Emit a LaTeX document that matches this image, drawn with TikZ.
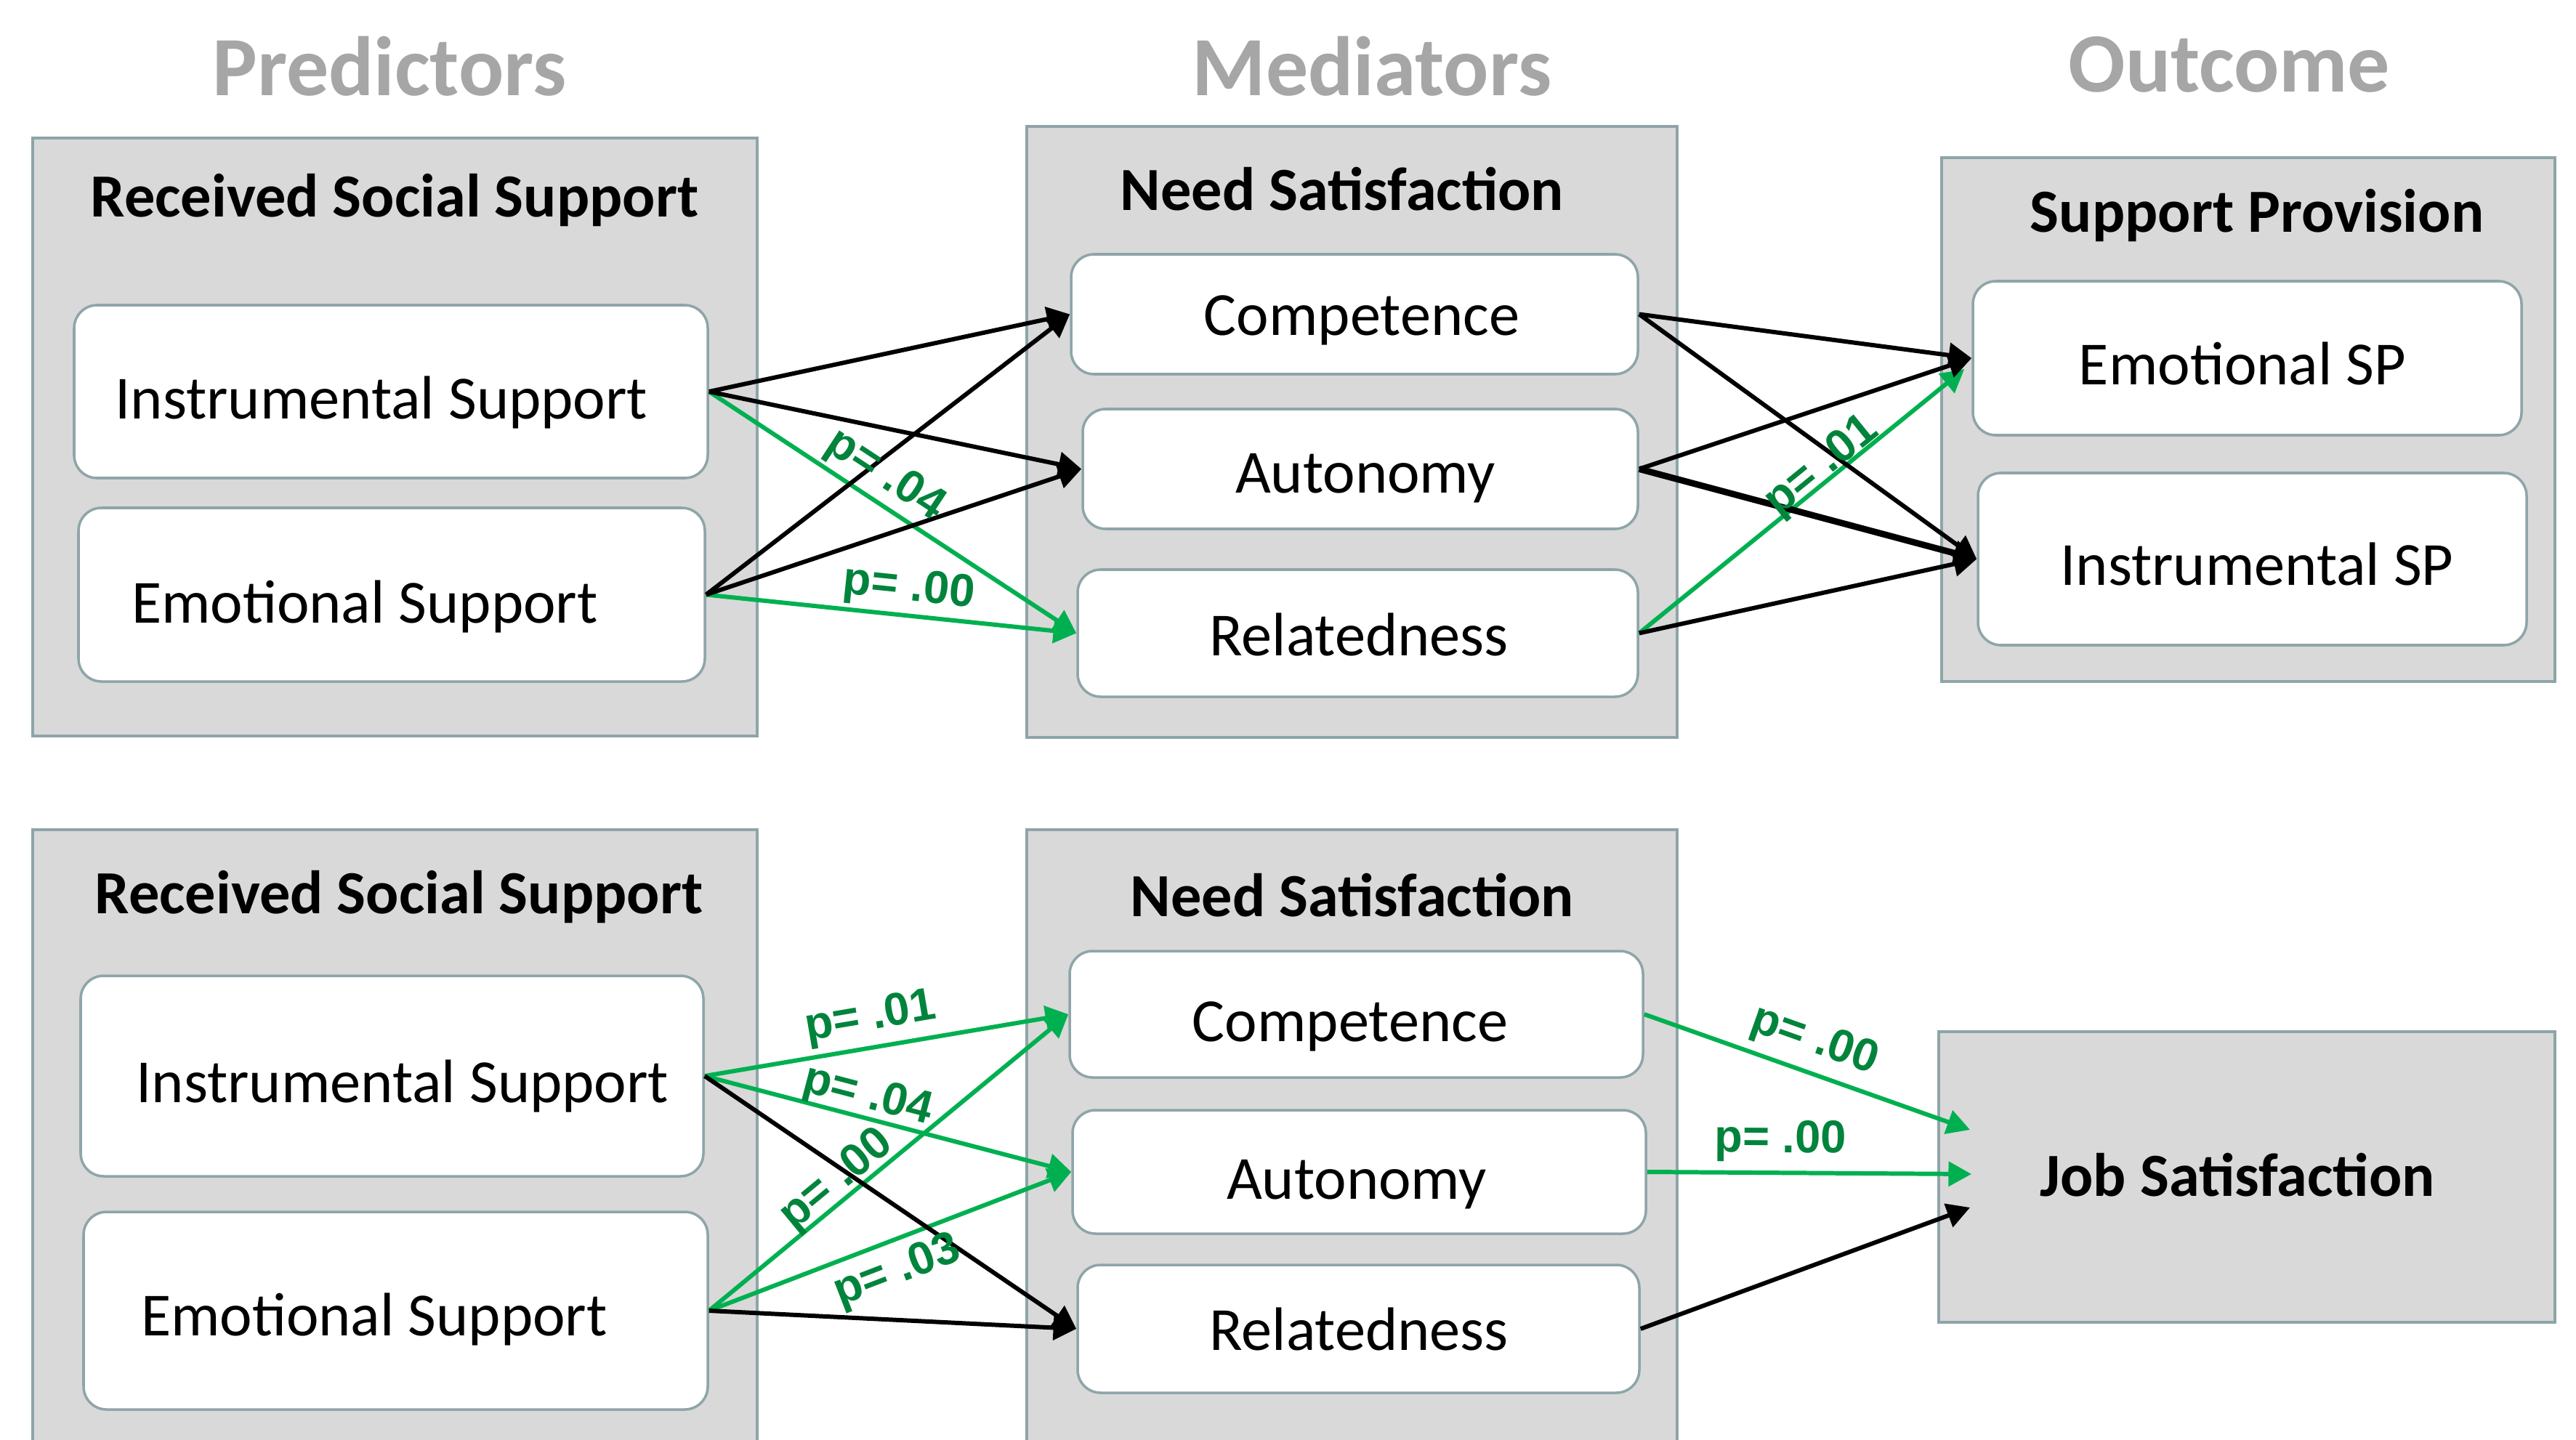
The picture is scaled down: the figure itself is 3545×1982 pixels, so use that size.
\documentclass[tikz,border=0pt]{standalone}
\usepackage{fontspec}
\setmainfont{Carlito}
\newfontfamily\pfont{Liberation Sans}
\usetikzlibrary{arrows.meta,calc,fit}
\definecolor{grpfill}{HTML}{D9D9D9}
\definecolor{edgec}{HTML}{8EA5A8}
\definecolor{headgray}{HTML}{A6A6A6}
\definecolor{sig}{HTML}{00B050}
\definecolor{sigtext}{HTML}{00843C}

\begin{document}
\begin{tikzpicture}[x=0.01cm, y=-0.01cm,
  group/.style={draw=edgec, fill=grpfill, line width=1.1pt, inner sep=0pt},
  item/.style={draw=edgec, fill=white, line width=1pt, rounded corners=9pt, inner sep=0pt},
  coltitle/.style={text=headgray, font=\bfseries\fontsize{33}{40}\selectfont, inner sep=0pt, anchor=base},
  grptitle/.style={font=\bfseries\fontsize{24}{29}\selectfont, inner sep=0pt, anchor=base},
  itemtext/.style={font=\fontsize{24}{29}\selectfont, inner sep=0pt, anchor=base},
  nsp/.style={draw=black, line width=1.7pt, -{Triangle[length=9pt,width=9.5pt]}},
  sp/.style={draw=sig, line width=1.7pt, -{Triangle[length=9pt,width=9.5pt]}},
  pval/.style={text=sigtext, font=\pfont\bfseries\fontsize{18}{20}\selectfont, inner sep=1pt},
]
\path[use as bounding box, fill=white] (0,0) rectangle (3545,1982);

% column headings
\node[coltitle] (tpred) at (536,132) {Predictors};
\node[coltitle] (tmed)  at (1888,132) {Mediators};
\node[coltitle] (tout)  at (3068,127) {Outcome};

% ---------- upper model ----------
\node[group, fit={(45,190) (1042,1013)}] (rssA) {};
\node[grptitle] (rssAt) at (543,298) {Received Social Support};
\node[item, fit={(102,420) (974,658)}] (insA) {};
\node[itemtext] (insAt) at (525,576) {Instrumental Support};
\node[item, fit={(108,699) (970,938)}] (emoA) {};
\node[itemtext] (emoAt) at (502,857) {Emotional Support};

\node[group, fit={(1413,174) (2308,1015)}] (nsA) {};
\node[grptitle] (nsAt) at (1847,289) {Need Satisfaction};
\node[item, fit={(1474,350) (2254,515)}] (compA) {};
\node[itemtext] (compAt) at (1874,461) {Competence};
\node[item, fit={(1490,563) (2254,728)}] (autoA) {};
\node[itemtext] (autoAt) at (1879,678) {Autonomy};
\node[item, fit={(1483,784) (2254,959)}] (relA) {};
\node[itemtext] (relAt) at (1870,902) {Relatedness};

\node[group, fit={(2672,217) (3516,938)}] (spA) {};
\node[grptitle] (spAt) at (3106,319) {Support Provision};
\node[item, fit={(2715,387) (3470,599)}] (espA) {};
\node[itemtext] (espAt) at (3086,529) {Emotional SP};
\node[item, fit={(2722,651) (3477,888)}] (ispA) {};
\node[itemtext] (ispAt) at (3106,805) {Instrumental SP};

\coordinate (espTip) at ($(espA.west)+(-10,15)$);

% significant paths
\draw[sp] (insA.east) -- (relA.west);
\draw[sp] (emoA.east) -- (relA.west);
\draw[sp] (relA.east) -- (espTip);
% other paths
\draw[nsp] (insA.east) -- (compA.west);
\draw[nsp] (insA.east) -- (autoA.west);
\draw[nsp] (emoA.east) -- (compA.west);
\draw[nsp] (emoA.east) -- (autoA.west);
\draw[nsp] (compA.east) -- (espA.west);
\draw[nsp] (compA.east) -- (ispA.west);
\draw[nsp] (autoA.east) -- (espA.west);
\draw[nsp, line width=2.5pt] (autoA.east) -- (ispA.west);
\draw[nsp] (relA.east) -- (ispA.west);
% p-values
\path (insA.east) -- node[pval, pos=0.44, sloped, above=1pt] (pA1) {p= .04} (relA.west);
\path (emoA.east) -- node[pval, pos=0.54, sloped, above=1pt] (pA2) {p= .00} (relA.west);
\path (relA.east) -- node[pval, pos=0.59, sloped, above=-4pt] (pA3) {p= .01} (espTip);

% ---------- lower model ----------
\node[group, fit={(45,1142) (1042,2010)}] (rssB) {};
\node[grptitle] (rssBt) at (549,1257) {Received Social Support};
\node[item, fit={(111,1343) (968,1619)}] (insB) {};
\node[itemtext] (insBt) at (554,1517) {Instrumental Support};
\node[item, fit={(115,1668) (974,1940)}] (emoB) {};
\node[itemtext] (emoBt) at (515,1838) {Emotional Support};

\node[group, fit={(1413,1142) (2308,2010)}] (nsB) {};
\node[grptitle] (nsBt) at (1861,1261) {Need Satisfaction};
\node[item, fit={(1472,1309) (2261,1483)}] (compB) {};
\node[itemtext] (compBt) at (1858,1433) {Competence};
\node[item, fit={(1476,1528) (2265,1698)}] (autoB) {};
\node[itemtext] (autoBt) at (1867,1650) {Autonomy};
\node[item, fit={(1483,1741) (2256,1917)}] (relB) {};
\node[itemtext] (relBt) at (1870,1858) {Relatedness};

\node[group, fit={(2668,1420) (3516,1820)}] (job) {};
\node[grptitle] (jobt) at (3079,1646) {Job Satisfaction};

\coordinate (jt1) at ($(job.west)+(45,-65)$);
\coordinate (jt2) at ($(job.west)+(47,-4)$);
\coordinate (jt3) at ($(job.west)+(45,42)$);

% significant paths
\draw[sp] (insB.east) -- (compB.west);
\draw[sp] (insB.east) -- (autoB.west);
\draw[sp] (emoB.east) -- (compB.west);
\draw[sp] (emoB.east) -- (autoB.west);
\draw[sp] (compB.east) -- (jt1);
\draw[sp] (autoB.east) -- (jt2);
% other paths
\draw[nsp] (insB.east) -- (relB.west);
\draw[nsp] (emoB.east) -- (relB.west);
\draw[nsp] (relB.east) -- (jt3);
% p-values
\path (insB.east) -- node[pval, pos=0.47, sloped, above=2pt] (pB1) {p= .01} (compB.west);
\path (insB.east) -- node[pval, pos=0.43, sloped, above=-1pt] (pB2) {p= .04} (autoB.west);
\path (emoB.east) -- node[pval, pos=0.39, sloped, above=-2pt] (pB3) {p= .00} (compB.west);
\path (emoB.east) -- node[pval, pos=0.49, sloped, below=3pt] (pB4) {p= .03} (autoB.west);
\path (compB.east) -- node[pval, pos=0.49, sloped, above=3pt] (pB5) {p= .00} (jt1);
\path (autoB.east) -- node[pval, pos=0.41, sloped, above=3pt] (pB6) {p= .00} (jt2);
\end{tikzpicture}
\end{document}
